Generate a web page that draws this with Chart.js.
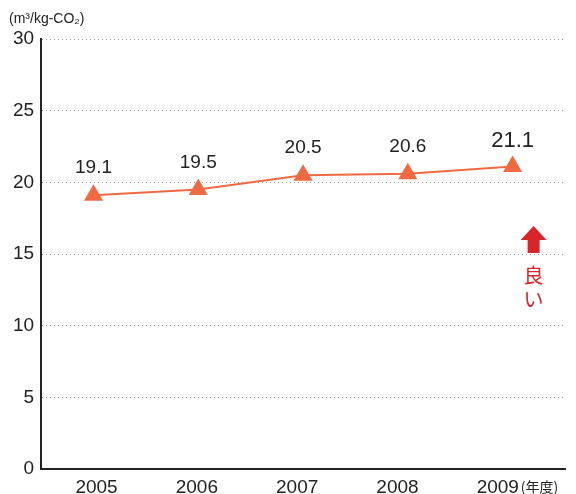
<!DOCTYPE html>
<html>
<head>
<meta charset="utf-8">
<script src="https://cdn.jsdelivr.net/npm/chart.js@4/dist/chart.umd.min.js"></script>
<style>
    html, body { margin: 0; padding: 0; background: #fff; overflow: hidden; }
    #wrap { position: relative; width: 576px; height: 494px; }
    canvas { display: block; }
</style>
</head>
<body>
<div id="wrap"><canvas id="chart"></canvas></div>
<script>
    // data
    const years = ['2005', '2006', '2007', '2008', '2009'];
    const values = [19.1, 19.5, 20.5, 20.6, 21.1];
    const yTicks = [0, 5, 10, 15, 20, 25, 30];

    const lineColor = '#ef6a43';
    const textColor = '#222';
    const red = '#d7262b';
    const font = 'Helvetica, "Liberation Sans", Arial, sans-serif';

    // value labels, unit text and the "better" arrow
    const extras = {
        id: 'extras',
        afterDatasetsDraw(chart) {
            const ctx = chart.ctx;
            const meta = chart.getDatasetMeta(0);
            const x = chart.scales.x;
            const x2 = chart.scales.x2;
            const y = chart.scales.y;
            ctx.save();
            ctx.fillStyle = textColor;
            ctx.textAlign = 'center';
            ctx.textBaseline = 'alphabetic';
            meta.data.forEach((pt, i) => {
                const last = i === values.length - 1;
                ctx.font = (last ? '22px ' : '19px ') + font;
                ctx.fillText(values[i].toFixed(1), pt.x, pt.y - (last ? 20 : 22));
            });

            // unit
            ctx.font = '14px ' + font;
            ctx.textAlign = 'left';
            ctx.fillText('(m³/kg-CO₂)', 9, 23);

            // year unit after last tick label
            const lastLbl = x2.getPixelForValue(years.length - 1);
            ctx.font = '14px "Noto Sans CJK JP", sans-serif';
            ctx.fillText('(年度)', lastLbl + 23, 492);

            // arrow
            const ax = x.getPixelForValue(years.length - 1) + 21;
            const top = y.getPixelForValue(16.95);
            const mid = y.getPixelForValue(15.98);
            const bot = y.getPixelForValue(15.07);
            ctx.fillStyle = red;
            ctx.beginPath();
            ctx.moveTo(ax, top);
            ctx.lineTo(ax + 13, mid);
            ctx.lineTo(ax + 6, mid);
            ctx.lineTo(ax + 6, bot);
            ctx.lineTo(ax - 6, bot);
            ctx.lineTo(ax - 6, mid);
            ctx.lineTo(ax - 13, mid);
            ctx.closePath();
            ctx.fill();

            ctx.font = '20px "Noto Sans CJK JP", sans-serif';
            ctx.textAlign = 'center';
            ctx.textBaseline = 'middle';
            ctx.fillText('良', ax, y.getPixelForValue(13.54));
            ctx.fillText('い', ax, y.getPixelForValue(11.8));
            ctx.restore();
        }
    };

    new Chart(document.getElementById('chart'), {
        type: 'line',
        data: {
            datasets: [{
                data: values.map((v, i) => ({ x: i, y: v })),
                borderColor: lineColor,
                borderWidth: 2,
                backgroundColor: lineColor,
                pointStyle: 'triangle',
                pointRadius: 11,
                pointHoverRadius: 11,
                pointBorderWidth: 0,
                tension: 0,
                fill: false,
            }],
        },
        options: {
            responsive: true,
            maintainAspectRatio: false,
            animation: false,
            layout: {
                padding: { top: 39, right: 5, left: 6, bottom: 0 },
            },
            plugins: {
                legend: { display: false },
                tooltip: { enabled: false },
            },
            scales: {
                // positions of the points
                x: {
                    type: 'linear',
                    min: -0.5,
                    max: years.length - 0.5,
                    display: false,
                    ticks: { display: false },
                },
                // year labels sit a little tighter than the points
                x2: {
                    type: 'linear',
                    position: 'bottom',
                    min: -0.552,
                    max: 4.67,
                    afterBuildTicks: (axis) => {
                        axis.ticks = years.map((_, i) => ({ value: i }));
                    },
                    afterFit: (axis) => {
                        axis.height = 25;
                        axis.paddingLeft = 0;
                        axis.paddingRight = 0;
                    },
                    grid: { display: false, drawTicks: false },
                    border: { display: true, color: textColor, width: 2 },
                    ticks: {
                        color: textColor,
                        padding: 7,
                        maxRotation: 0,
                        font: { family: font, size: 19 },
                        callback: (v) => years[v],
                    },
                },
                y: {
                    min: 0,
                    max: 30,
                    afterBuildTicks: (axis) => {
                        axis.ticks = yTicks.map(v => ({ value: v }));
                    },
                    grid: {
                        color: '#999',
                        lineWidth: 1,
                        drawTicks: false,
                    },
                    border: { display: true, color: textColor, width: 2, dash: [1, 3] },
                    ticks: {
                        color: textColor,
                        padding: 7,
                        font: { family: font, size: 19 },
                    },
                },
            },
        },
        plugins: [extras],
    });
</script>
</body>
</html>
